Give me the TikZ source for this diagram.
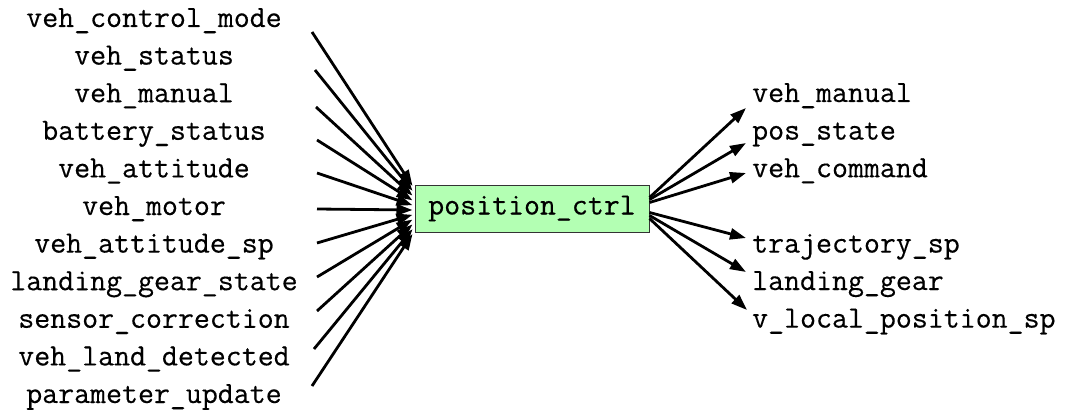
\documentclass[tikz,border=0pt]{standalone}
\usepackage{fontspec}
\setmonofont{Latin Modern Mono}[FakeBold=0.35]
\usetikzlibrary{arrows.meta,calc}
\definecolor{boxgreen}{RGB}{179,255,179}
\begin{document}
\begin{tikzpicture}[x=1pt,y=-1pt,
  lbl/.style={font=\fontsize{31pt}{37pt}\selectfont\ttfamily, inner sep=0pt},
  edge/.style={line width=2.8pt, -{Triangle[length=16pt,width=11pt]}},
  procbox/.style={draw=black!80, line width=1pt, fill=boxgreen, minimum width=234pt, minimum height=47pt, inner sep=0pt,
    font=\fontsize{31pt}{37pt}\selectfont\ttfamily}]
\useasboundingbox (0,0) rectangle (1071,412);
% central node
\node[procbox] (pc) at (532,208.5) {position\_ctrl};
% left labels
\foreach \name/\txt [count=\i from 0] in {
  a/veh\_control\_mode, b/veh\_status, c/veh\_manual, d/battery\_status,
  e/veh\_attitude, f/veh\_motor, g/veh\_attitude\_sp, h/landing\_gear\_state,
  k/sensor\_correction, m/veh\_land\_detected, n/parameter\_update}{
  \node[lbl, anchor=base] (\name) at (154,{27+37.6*\i}) {\txt};
}
% right labels
\node[lbl, anchor=base west] (o1) at (752,102) {veh\_manual};
\node[lbl, anchor=base west] (o2) at (752,139.6) {pos\_state};
\node[lbl, anchor=base west] (o3) at (752,177.2) {veh\_command};
\node[lbl, anchor=base west] (o4) at (752,252.6) {trajectory\_sp};
\node[lbl, anchor=base west] (o5) at (752,290) {landing\_gear};
\node[lbl, anchor=base west] (o6) at (752,327.6) {v\_local\_position\_sp};
% start points of incoming edges
\coordinate (sa) at (312,32);
\coordinate (sb) at (315,70);
\coordinate (sc) at (316,107);
\coordinate (sd) at (317,140);
\coordinate (se) at (317,173);
\coordinate (sf) at (317,209);
\coordinate (sg) at (317,243);
\coordinate (sh) at (317,277);
\coordinate (sk) at (317,311);
\coordinate (sm) at (314,349);
\coordinate (sn) at (312,386);
% incoming edges, tips spread along the west side of the box
\foreach \s [count=\i from 0] in {sa,sb,sc,sd,se,sf,sg,sh,sk,sm,sn}{
  \coordinate (t\i) at ($(pc.west |- 0,{186+4.8*\i})+(-2,0)$);
  \draw[edge] (\s) -- (t\i);
}
% outgoing edges
\coordinate (r1) at ($(pc.east)+(0,-11)$);
\coordinate (r2) at ($(pc.east)+(0,-9)$);
\coordinate (r3) at ($(pc.east)+(0,-6)$);
\coordinate (r4) at ($(pc.east)+(0,4)$);
\coordinate (r5) at ($(pc.east)+(0,7)$);
\coordinate (r6) at ($(pc.east)+(0,10)$);
\coordinate (e1) at (746,108);
\coordinate (e2) at (746,143);
\coordinate (e3) at (746,173);
\coordinate (e4) at (746,238);
\coordinate (e5) at (746,272);
\coordinate (e6) at (747,310);
\foreach \i in {1,...,6}{
  \draw[edge] (r\i) -- (e\i);
}
\end{tikzpicture}
\end{document}
